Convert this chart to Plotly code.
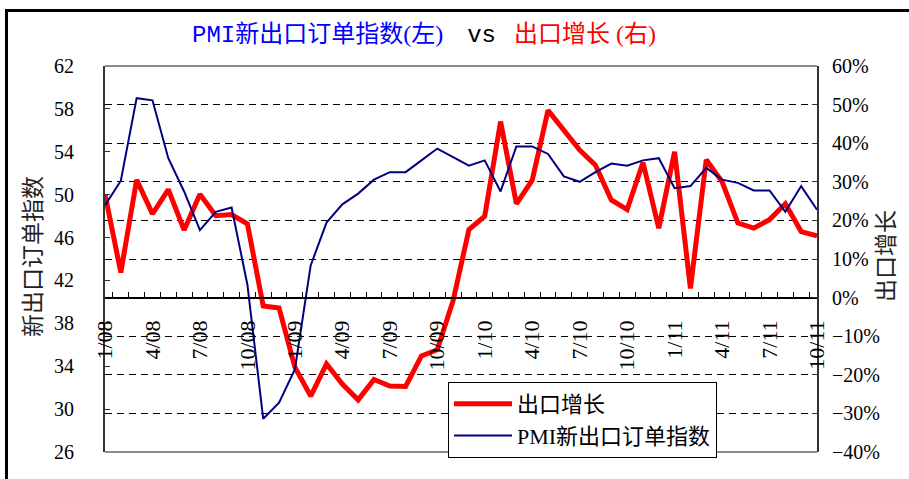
import plotly.graph_objects as go

months = ["1/08", "2/08", "3/08", "4/08", "5/08", "6/08", "7/08", "8/08", "9/08", "10/08", "11/08", "12/08",
          "1/09", "2/09", "3/09", "4/09", "5/09", "6/09", "7/09", "8/09", "9/09", "10/09", "11/09", "12/09",
          "1/10", "2/10", "3/10", "4/10", "5/10", "6/10", "7/10", "8/10", "9/10", "10/10", "11/10", "12/10",
          "1/11", "2/11", "3/11", "4/11", "5/11", "6/11", "7/11", "8/11", "9/11", "10/11"]
shown_labels = ["1/08", "4/08", "7/08", "10/08", "1/09", "4/09", "7/09", "10/09",
                "1/10", "4/10", "7/10", "10/10", "1/11", "4/11", "7/11", "10/11"]

export_growth = [26.8, 6.5, 30.5, 21.7, 28.0, 17.5, 26.8, 21.2, 21.5, 19.1, -2.2, -2.7,
                 -18.0, -25.5, -17.2, -22.4, -26.5, -21.2, -22.9, -23.0, -15.1, -13.5, -0.8, 17.6,
                 21.1, 45.6, 24.3, 30.4, 48.5, 43.6, 38.2, 34.3, 25.3, 22.8, 35.0, 18.0,
                 37.8, 2.4, 35.7, 30.0, 19.3, 18.0, 20.2, 24.3, 17.1, 16.0]
pmi_new_export = [49.0, 51.3, 59.0, 58.8, 53.4, 50.3, 46.7, 48.4, 48.8, 41.6, 29.1, 30.6,
                  33.7, 43.4, 47.4, 49.1, 50.1, 51.4, 52.1, 52.1, 53.2, 54.3, 53.5, 52.7,
                  53.2, 50.3, 54.5, 54.5, 53.8, 51.7, 51.2, 52.1, 52.9, 52.7, 53.2, 53.4,
                  50.6, 50.8, 52.5, 51.4, 51.1, 50.4, 50.4, 48.4, 50.8, 48.6]

left_ticks = [26, 30, 34, 38, 42, 46, 50, 54, 58, 62]
right_ticks = [-40, -30, -20, -10, 0, 10, 20, 30, 40, 50, 60]
right_tick_labels = ["\u221240%", "\u221230%", "\u221220%", "\u221210%", "0%", "10%", "20%", "30%", "40%", "50%", "60%"]

FONT = "Liberation Serif, Noto Sans CJK SC, serif"
MONO = "font-family:'Liberation Mono', monospace"

fig = go.Figure()
fig.add_trace(go.Scatter(x=months, y=export_growth, name="出口增长", mode="lines",
                         line=dict(color="#FF0000", width=5), yaxis="y"))
fig.add_trace(go.Scatter(x=months, y=pmi_new_export, name="PMI新出口订单指数", mode="lines",
                         line=dict(color="#000080", width=2), yaxis="y2"))

W, H = 909, 479
L, R, T, B = 105, 92, 66, 27
pw, ph = W - L - R, H - T - B


def px(x):
    return (x - L) / pw


def py(y):
    return (H - B - y) / ph


fig.update_layout(
    width=W, height=H,
    margin=dict(l=L, r=R, t=T, b=B),
    paper_bgcolor="white", plot_bgcolor="white",
    font=dict(family=FONT, size=20, color="black"),
    showlegend=True,
    legend=dict(x=px(448), y=py(382), xanchor="left", yanchor="top",
                bgcolor="white", bordercolor="black", borderwidth=1,
                font=dict(size=22, family=FONT), itemwidth=58),
    xaxis=dict(type="category", tickvals=months,
               ticktext=[m if m in shown_labels else "" for m in months],
               tickson="boundaries", ticks="inside", ticklen=5, tickwidth=1, tickcolor="black",
               showline=True, linecolor="black", linewidth=2, showgrid=False,
               anchor="free", position=0.4, tickangle=-90,
               tickfont=dict(size=22, family=FONT), ticklabelstandoff=13),
    yaxis=dict(range=[-40, 60], tickvals=right_ticks, ticktext=right_tick_labels, side="right",
               ticks="inside", ticklen=5, tickcolor="#333", showline=True, linecolor="#333",
               linewidth=2, showgrid=True, gridcolor="black", gridwidth=1, griddash="7px,5px",
               zeroline=False, tickfont=dict(size=20, family=FONT), ticklabelstandoff=9),
    yaxis2=dict(range=[26, 62], tickvals=left_ticks, side="left", overlaying="y",
                ticks="inside", ticklen=5, tickcolor="#333", showline=True, linecolor="#333",
                linewidth=2, showgrid=False, zeroline=False,
                tickfont=dict(size=20, family=FONT), ticklabelstandoff=25),
    shapes=[
        dict(type="line", xref="paper", yref="paper", x0=0, x1=1, y0=1, y1=1,
             line=dict(color="#8c8c8c", width=2)),
        dict(type="line", xref="paper", yref="paper", x0=0, x1=1, y0=0, y1=0,
             line=dict(color="#8c8c8c", width=2)),
        dict(type="rect", xref="paper", yref="paper", x0=px(6.5), x1=px(930), y0=py(495), y1=py(10.5),
             line=dict(color="black", width=3), fillcolor="rgba(0,0,0,0)"),
    ],
    annotations=[
        dict(xref="paper", yref="paper", x=px(424), y=py(35), xanchor="center", yanchor="middle",
             showarrow=False, font=dict(size=24, family=FONT),
             text='<span style="color:#0000FF"><span style="' + MONO + '">PMI</span>新出口订单指数(左)</span>'
                  '\u00a0\u00a0\u00a0\u00a0<span style="' + MONO + '">vs</span>\u00a0\u00a0\u00a0'
                  '<span style="color:#FF0000">出口增长\u00a0(右)</span>'),
        dict(xref="paper", yref="paper", x=px(33), y=py(257), xanchor="center", yanchor="middle",
             showarrow=False, textangle=-90, font=dict(size=23, family=FONT, color="#222"),
             text="新出口订单指数"),
        dict(xref="paper", yref="paper", x=px(886), y=py(256), xanchor="center", yanchor="middle",
             showarrow=False, textangle=-90, font=dict(size=23, family=FONT, color="#222"),
             text="出口增长"),
    ],
)

fig.write_html("out.html", config={"displayModeBar": False},
               post_script="document.body.style.margin='0px';")
